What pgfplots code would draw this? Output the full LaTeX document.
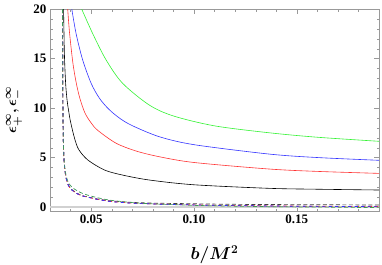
\documentclass[border=0pt]{standalone}
\usepackage{fontspec}
\setmainfont{Liberation Serif}
\usepackage{pgfplots}
\pgfplotsset{compat=1.18}
\definecolor{mgreen}{rgb}{0.2,0.95,0.2}
\definecolor{mred}{rgb}{1,0.2,0.2}
\definecolor{mblue}{rgb}{0.2,0.2,1}
\definecolor{mpurple}{rgb}{0.45,0.1,0.6}
\definecolor{dgreen}{rgb}{0.25,0.6,0.35}
\definecolor{zline}{rgb}{0.82,0.82,0.82}
\definecolor{framec}{rgb}{0.6,0.6,0.6}
\begin{document}
\begin{tikzpicture}
\begin{axis}[
  name=ax,
  scale only axis, width=329pt, height=202pt,
  xmin=0.03, xmax=0.19, ymin=-0.4, ymax=20,
  xtick={0.05,0.10,0.15}, xticklabels={0.05,0.10,0.15},
  minor xtick={0.03,0.04,0.06,0.07,0.08,0.09,0.11,0.12,0.13,0.14,0.16,0.17,0.18,0.19},
  ytick={0,5,10,15,20}, yticklabels={0,5,10,15,20},
  minor ytick={1,2,3,4,6,7,8,9,11,12,13,14,16,17,18,19},
  tick align=inside,
  axis line style={framec},
  tick style={framec},
  major tick length=5pt, minor tick length=2.5pt,
  tick label style={font=\fontsize{13}{15}\selectfont\bfseries},
  xlabel={$b/M^2$},
  ylabel={$\epsilon^{\infty}_{+},\epsilon^{\infty}_{-}$},
  xlabel style={font=\fontsize{17}{19}\selectfont\boldmath, at={(axis description cs:0.5,0)}, anchor=center, yshift=-44pt},
  ylabel style={font=\fontsize{15}{17}\selectfont\boldmath, at={(axis description cs:0,0.5)}, anchor=center, yshift=36pt},
]
\addplot[zline, line width=1.6pt, forget plot] coordinates {(0.03,0) (0.19,0)};
\addplot[black, line width=0.6pt, smooth] coordinates {
(0.0366,20) (0.0370,15.5) (0.0376,12.5) (0.0383,10.8) (0.0390,9.8) (0.0400,8.6)
(0.0420,6.9) (0.0440,5.8) (0.0484,4.75) (0.0565,3.74) (0.0653,3.23) (0.0783,2.73)
(0.1000,2.25) (0.1366,1.89) (0.1600,1.80) (0.1900,1.72)};
\addplot[mred, line width=0.6pt, smooth] coordinates {
(0.0386,20) (0.0395,17.6) (0.0411,14.6) (0.0427,12.6) (0.0445,11.0) (0.0470,9.5)
(0.0500,8.5) (0.0532,7.75) (0.0621,6.45) (0.0720,5.65) (0.0832,5.08) (0.1000,4.5)
(0.1366,3.84) (0.1600,3.6) (0.1900,3.40)};
\addplot[mblue, line width=0.6pt, smooth] coordinates {
(0.0406,20) (0.0427,17.5) (0.0459,14.85) (0.0500,12.5) (0.0540,11.0) (0.0585,9.9)
(0.0640,8.95) (0.0702,8.2) (0.0832,7.1) (0.1000,6.3) (0.1366,5.35) (0.1600,5.0)
(0.1900,4.72)};
\addplot[mgreen, line width=0.6pt, smooth] coordinates {
(0.0454,20) (0.0508,17.5) (0.0573,14.85) (0.0653,12.5) (0.0783,10.3) (0.0900,9.2)
(0.1100,8.2) (0.1366,7.5) (0.1600,7.05) (0.1900,6.64)};
\addplot[black!75, line width=0.7pt, dash pattern=on 4pt off 2.5pt, smooth] coordinates {
(0.0361,20) (0.0362,14) (0.0363,9.5) (0.0365,6.5) (0.0368,4.8) (0.0372,3.8)
(0.0378,3.0) (0.0388,2.3) (0.0400,1.9) (0.0420,1.55) (0.0450,1.2) (0.0484,1.02)
(0.0530,0.82) (0.0600,0.62) (0.0700,0.47) (0.0800,0.40) (0.1000,0.33) (0.1170,0.28)
(0.1400,0.25) (0.1600,0.23) (0.1900,0.21)};
\addplot[mred, line width=0.7pt, dash pattern=on 4pt off 2.5pt, smooth] coordinates {
(0.0361,20) (0.0362,14) (0.0363,9.5) (0.0365,6.5) (0.0368,4.8) (0.0372,3.8)
(0.0378,2.95) (0.0388,2.25) (0.0400,1.85) (0.0420,1.5) (0.0450,1.17) (0.0484,1.0)
(0.0530,0.78) (0.0600,0.56) (0.0700,0.40) (0.0800,0.32) (0.1000,0.22) (0.1170,0.16)
(0.1400,0.11) (0.1600,0.08) (0.1900,0.05)};
\addplot[mpurple, line width=0.7pt, dash pattern=on 2pt off 4.5pt, smooth] coordinates {
(0.0361,20) (0.0362,14) (0.0363,9.5) (0.0365,6.5) (0.0368,4.8) (0.0372,3.8)
(0.0378,2.95) (0.0388,2.25) (0.0400,1.85) (0.0420,1.5) (0.0450,1.17) (0.0484,1.0)
(0.0530,0.78) (0.0600,0.55) (0.0700,0.39) (0.0800,0.31) (0.1000,0.21) (0.1170,0.15)
(0.1400,0.10) (0.1600,0.07) (0.1900,0.04)};
\addplot[mblue, line width=0.7pt, dash pattern=on 3pt off 3.5pt, smooth] coordinates {
(0.0361,20) (0.0362,14) (0.0363,9.5) (0.0365,6.5) (0.0368,4.8) (0.0372,3.8)
(0.0378,2.95) (0.0388,2.25) (0.0400,1.85) (0.0420,1.5) (0.0450,1.17) (0.0484,1.0)
(0.0530,0.78) (0.0600,0.55) (0.0700,0.39) (0.0800,0.31) (0.1000,0.21) (0.1170,0.15)
(0.1400,0.10) (0.1600,0.07) (0.1900,0.04)};
\addplot[dgreen, line width=0.7pt, dash pattern=on 4pt off 2.5pt, smooth] coordinates {
(0.0361,20) (0.0362,14) (0.0363,9.5) (0.0365,6.6) (0.0368,5.0) (0.0372,4.0)
(0.0378,3.2) (0.0388,2.55) (0.0400,2.15) (0.0420,1.8) (0.0450,1.45) (0.0484,1.2)
(0.0530,0.95) (0.0590,0.7) (0.0700,0.45) (0.0800,0.32) (0.1000,0.17) (0.1170,0.10)
(0.1400,0.03) (0.1600,0.0) (0.1900,-0.06)};
\end{axis}
\pgfresetboundingbox
\path (ax.south west) ++(-50pt,-53pt) coordinate (bbA);
\path (ax.north east) ++(3pt,9pt) coordinate (bbB);
\useasboundingbox (bbA) rectangle (bbB);
\end{tikzpicture}
\end{document}
